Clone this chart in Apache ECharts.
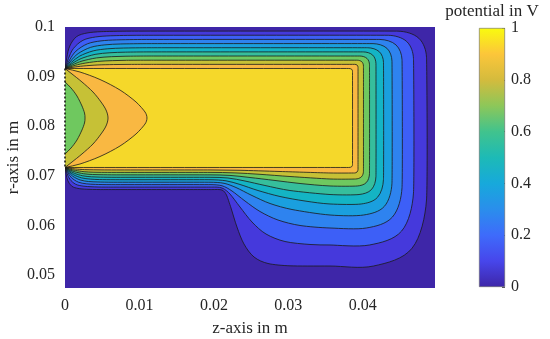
<!DOCTYPE html>
<html><head><meta charset="utf-8">
<script src="https://cdn.jsdelivr.net/npm/echarts@6/dist/echarts.min.js"></script>
<style>html,body{margin:0;padding:0;background:#fff}#c{width:550px;height:339px}</style>
</head><body><div id="c"></div>
<script>
// ---- axis ticks ----
const zTicks = [0, 0.01, 0.02, 0.03, 0.04];
const rTicks = [0.05, 0.06, 0.07, 0.08, 0.09, 0.1];
const cbTicks = [0, 0.2, 0.4, 0.6, 0.8, 1];
// ---- contour levels (V) ----
const levels = [0.1, 0.2, 0.3, 0.4, 0.5, 0.6, 0.7, 0.8, 0.9, 1.0];
// ---- band colours: [0,0.1) ... [0.9,1.0), >=1 ----
const bandColors = ['#3E26A8','#4539DC','#3D5FF7','#2E83EF','#1A9FDE','#14B4C4','#36BE9C','#6FC85F','#C6C136','#F9B842','#F5D82A'];
// ---- colour bar stops ----
const cbStops = ['#3E26A8','#4746EB','#3E6BFB','#2A8EEC','#17A9DB','#1DBAB6','#41C38D','#8DC759','#D4BB3D','#FCC63A','#F9FB0E'];

// ---- contour lines [z (m), r (m)] ----
const c01 = [[0,0.09164],[0.00025,0.09389],[0.00064,0.09615],[0.00154,0.09804],[0.00296,0.09879],[0.00486,0.09906],[0.00873,0.09916],[0.04474,0.09916],[0.04752,0.09774],[0.04856,0.0939],[0.04856,0.06514],[0.04662,0.05542],[0.04144,0.05183],[0.0356,0.05183],[0.03022,0.05187],[0.02727,0.05234],[0.02539,0.05365],[0.02404,0.05627],[0.0231,0.05969],[0.0223,0.06352],[0.02169,0.06614],[0.02109,0.06715],[0.01974,0.06724],[0.0047,0.06724],[0.00287,0.06731],[0.00175,0.06747],[0.00091,0.06792],[0.00038,0.06902],[0.00015,0.07035],[0,0.07169]];
const c02 = [[0,0.09164],[0.00046,0.09364],[0.00112,0.09565],[0.00241,0.09732],[0.00411,0.09799],[0.00615,0.09823],[0.01007,0.09833],[0.04343,0.09833],[0.0459,0.09707],[0.04681,0.09365],[0.04681,0.06653],[0.04522,0.05889],[0.04091,0.05607],[0.0356,0.05607],[0.03291,0.05617],[0.02955,0.05677],[0.027,0.05828],[0.02512,0.0607],[0.02351,0.06372],[0.02216,0.06634],[0.02109,0.06755],[0.01974,0.06774],[0.00537,0.06774],[0.00363,0.0678],[0.00243,0.06794],[0.00142,0.06832],[0.00066,0.06931],[0.00027,0.0705],[0,0.07169]];
const c03 = [[0,0.09164],[0.00063,0.09339],[0.00148,0.09515],[0.00301,0.09661],[0.00484,0.0972],[0.00693,0.0974],[0.01075,0.09749],[0.0423,0.09749],[0.04446,0.09639],[0.04527,0.0934],[0.04527,0.06765],[0.04398,0.0617],[0.04048,0.05949],[0.0356,0.05949],[0.03157,0.06],[0.02861,0.0611],[0.02619,0.06282],[0.02418,0.06493],[0.02243,0.06695],[0.02109,0.068],[0.01948,0.06823],[0.00604,0.06823],[0.0041,0.06828],[0.00286,0.0684],[0.00178,0.06874],[0.00088,0.06961],[0.00037,0.07066],[0,0.07169]];
const c04 = [[0,0.09164],[0.00076,0.09314],[0.00177,0.09465],[0.00345,0.0959],[0.00536,0.0964],[0.00748,0.09658],[0.01142,0.09665],[0.04138,0.09665],[0.04324,0.09571],[0.04392,0.09315],[0.04392,0.06852],[0.04289,0.06384],[0.04011,0.06211],[0.0356,0.06211],[0.03049,0.06322],[0.02754,0.06443],[0.02512,0.06604],[0.02297,0.06765],[0.02136,0.0685],[0.01948,0.06872],[0.00631,0.06872],[0.00442,0.06877],[0.00316,0.06886],[0.00204,0.06917],[0.00105,0.06991],[0.00045,0.0708],[0,0.07169]];
const c05 = [[0,0.09164],[0.00087,0.09289],[0.00199,0.09415],[0.00379,0.09519],[0.00575,0.09561],[0.00788,0.09576],[0.01142,0.09582],[0.04066,0.09582],[0.04221,0.09503],[0.04278,0.0929],[0.04278,0.06927],[0.04197,0.06566],[0.03979,0.06433],[0.0356,0.06433],[0.03224,0.06493],[0.02888,0.06584],[0.02592,0.06705],[0.02351,0.06826],[0.02163,0.069],[0.01948,0.06922],[0.00658,0.06922],[0.00466,0.06925],[0.00339,0.06935],[0.00224,0.06959],[0.00118,0.0702],[0.00051,0.07094],[0,0.07169]];
const c06 = [[0,0.09164],[0.00095,0.09264],[0.00217,0.09364],[0.00404,0.09448],[0.00603,0.09481],[0.00813,0.09493],[0.01142,0.09498],[0.04008,0.09498],[0.04132,0.09435],[0.04177,0.09264],[0.04177,0.06989],[0.04116,0.06723],[0.0395,0.06624],[0.0356,0.06624],[0.03022,0.06705],[0.02686,0.06806],[0.02418,0.06896],[0.02189,0.06957],[0.01948,0.06971],[0.00672,0.06971],[0.00477,0.06974],[0.00356,0.06981],[0.00239,0.07001],[0.00128,0.0705],[0.00056,0.0711],[0,0.07169]];
const c07 = [[0,0.09164],[0.00102,0.09239],[0.0023,0.09314],[0.00423,0.09377],[0.00625,0.09402],[0.00819,0.09411],[0.01142,0.09415],[0.03962,0.09415],[0.04056,0.09367],[0.0409,0.09239],[0.0409,0.07046],[0.04046,0.06863],[0.03926,0.06796],[0.0356,0.06796],[0.03157,0.06846],[0.02821,0.06907],[0.02485,0.06967],[0.02216,0.07009],[0.01948,0.0702],[0.00672,0.0702],[0.00484,0.07023],[0.00369,0.07027],[0.0025,0.07043],[0.00136,0.0708],[0.0006,0.07124],[0,0.07169]];
const c08 = [[0,0.09164],[0.00106,0.09214],[0.00239,0.09264],[0.00435,0.09306],[0.00639,0.09322],[0.00826,0.09329],[0.01142,0.09331],[0.03925,0.09331],[0.03987,0.09299],[0.04009,0.09214],[0.04009,0.07092],[0.03981,0.06979],[0.03903,0.06937],[0.0356,0.06937],[0.03022,0.06987],[0.02619,0.07031],[0.02283,0.0706],[0.01948,0.0707],[0.00672,0.0707],[0.0049,0.07071],[0.00377,0.07074],[0.00257,0.07084],[0.00141,0.0711],[0.00063,0.07138],[0,0.07169]];
const c09 = [[0,0.09164],[0.00109,0.09189],[0.00244,0.09214],[0.00443,0.09235],[0.0065,0.09243],[0.00833,0.09246],[0.01142,0.09247],[0.03893,0.09247],[0.03924,0.09232],[0.03936,0.09189],[0.03936,0.07132],[0.03923,0.07078],[0.03889,0.07058],[0.0356,0.07058],[0.02888,0.07088],[0.02351,0.07112],[0.01948,0.07119],[0.00672,0.07119],[0.00497,0.0712],[0.00384,0.07122],[0.00262,0.07126],[0.00144,0.07138],[0.00064,0.07154],[0,0.07169]];
const c10 = [[0,0.09164],[0.03815,0.09164],[0.03851,0.09148],[0.03862,0.09103],[0.03862,0.07229],[0.03851,0.07185],[0.03815,0.07169],[0,0.07169]];
// inner contours near z = 0
const inner08 = [[0,0.08892],[0.00081,0.08771],[0.00161,0.08609],[0.00228,0.08408],[0.00262,0.08267],[0.00269,0.08166],[0.00262,0.08065],[0.00228,0.07924],[0.00161,0.07723],[0.00081,0.07561],[0,0.07441]];
const inner09 = [[0,0.09164],[0.00094,0.09053],[0.00228,0.08892],[0.00376,0.0869],[0.00484,0.08489],[0.00551,0.08327],[0.00578,0.08166],[0.00551,0.08005],[0.00484,0.07844],[0.00376,0.07642],[0.00228,0.07441],[0.00094,0.07279],[0,0.07169]];
const inner10 = [[0,0.09164],[0.00201,0.09093],[0.0047,0.08942],[0.00739,0.0873],[0.00954,0.08489],[0.01075,0.08287],[0.01101,0.08166],[0.01075,0.08045],[0.00954,0.07844],[0.00739,0.07602],[0.0047,0.0739],[0.00201,0.07239],[0,0.07169]];
// boundary segment at z = 0
const axisSegment = [[0,0.09164],[0,0.07169]];

const outers = [c01,c02,c03,c04,c05,c06,c07,c08,c09,c10];
const innersByLevel = {7: inner08, 8: inner09, 9: inner10};
const strokeSets = [c01,c02,c03,c04,c05,c06,c07,c08,c09,c10,inner08,inner09,inner10];

function curvePath(P, move) {
  const n = P.length;
  const dist = (a,b)=>Math.hypot(b[0]-a[0], b[1]-a[1]);
  const tang = i => {
    const a = P[Math.max(i-1,0)], b = P[Math.min(i+1,n-1)];
    const l = dist(a,b) || 1;
    return [(b[0]-a[0])/l, (b[1]-a[1])/l];
  };
  const f = v => v.toFixed(2);
  let d = (move ? 'M' : 'L') + f(P[0][0]) + ' ' + f(P[0][1]);
  for (let i = 0; i < n-1; i++) {
    const a = P[i], b = P[i+1];
    const seg = dist(a,b);
    const prevSeg = i>0 ? dist(P[i-1],a) : seg;
    const nextSeg = i+2<n ? dist(b,P[i+2]) : seg;
    const h1 = Math.min(seg, prevSeg)/3, h2 = Math.min(seg, nextSeg)/3;
    const t1 = tang(i), t2 = tang(i+1);
    d += ' C' + f(a[0]+t1[0]*h1) + ' ' + f(a[1]+t1[1]*h1) + ' ' + f(b[0]-t2[0]*h2) + ' ' + f(b[1]-t2[1]*h2) + ' ' + f(b[0]) + ' ' + f(b[1]);
  }
  return d;
}
const toPx = (api, pts) => pts.map(p => api.coord(p));

const FONT = 'Liberation Serif';
const TXT = '#262626';
const chart = echarts.init(document.getElementById('c'), null, {renderer: 'canvas'});
chart.setOption({
  animation: false,
  grid: [
    {left: 65, right: 115, top: 27, bottom: 51, show: true, backgroundColor: bandColors[0], borderWidth: 0, containLabel: false, outerBoundsMode: 'none'},
    {left: 479, top: 28, width: 26, height: 259, show: false, containLabel: false, outerBoundsMode: 'none'}
  ],
  xAxis: [
    {type: 'value', gridIndex: 0, min: 0, max: 0.0497,
     axisLine: {show: false}, axisTick: {show: false}, splitLine: {show: false},
     axisLabel: {customValues: zTicks, fontFamily: FONT, fontSize: 16, color: TXT, margin: 10},
     name: 'z-axis in m', nameLocation: 'middle', nameGap: 32, nameMoveOverlap: false,
     nameTextStyle: {fontFamily: FONT, fontSize: 17, color: TXT}},
    {type: 'category', gridIndex: 1, data: [''], position: 'top',
     axisLine: {show: false}, axisTick: {show: false}, axisLabel: {show: false},
     name: 'potential in V', nameLocation: 'middle', nameGap: 8, nameMoveOverlap: false,
     nameTextStyle: {fontFamily: FONT, fontSize: 17, color: TXT}}
  ],
  yAxis: [
    {type: 'value', gridIndex: 0, min: 0.0474, max: 0.1,
     axisLine: {show: false}, axisTick: {show: false}, splitLine: {show: false},
     axisLabel: {customValues: rTicks, fontFamily: FONT, fontSize: 16, color: TXT, margin: 10, padding: [4, 0, 0, 0]},
     name: 'r-axis in m', nameLocation: 'middle', nameGap: 43, nameRotate: 90, nameMoveOverlap: false,
     nameTextStyle: {fontFamily: FONT, fontSize: 17, color: TXT}},
    {type: 'value', gridIndex: 1, min: 0, max: 1, interval: 0.2, position: 'right',
     axisLine: {show: false}, splitLine: {show: false},
     axisTick: {show: true, inside: true, length: 3, lineStyle: {color: '#333', width: 0.8}},
     axisLabel: {customValues: cbTicks, fontFamily: FONT, fontSize: 16, color: TXT, margin: 6, padding: [4, 0, 0, 0]}}
  ],
  series: [
    {type: 'custom', name: 'bands', xAxisIndex: 0, yAxisIndex: 0, clip: true, silent: true, z: 1,
     data: levels.map((l, i) => [i]),
     renderItem: (params, api) => {
       const i = api.value(0);
       let d = curvePath(toPx(api, outers[i]), true);
       const inner = innersByLevel[i];
       if (inner) d += ' ' + curvePath(toPx(api, inner.slice().reverse()), false);
       d += ' Z';
       return {type: 'path', shape: {pathData: d}, style: {fill: bandColors[i + 1], stroke: null}};
     }},
    {type: 'custom', name: 'contours', xAxisIndex: 0, yAxisIndex: 0, clip: true, silent: true, z: 3,
     data: strokeSets.map((s, i) => [i]),
     renderItem: (params, api) => {
       const i = api.value(0);
       const d = curvePath(toPx(api, strokeSets[i]), true);
       return {type: 'path', shape: {pathData: d}, style: {fill: null, stroke: '#1a1a1a', lineWidth: 0.8}};
     }},
    {type: 'line', name: 'boundary', xAxisIndex: 0, yAxisIndex: 0, data: axisSegment, symbol: 'none', z: 4,
     clip: false, silent: true, lineStyle: {color: '#1a1a1a', width: 1.6, type: [2, 2]}},
    {type: 'bar', name: 'colorbar', xAxisIndex: 1, yAxisIndex: 1, data: [1], barWidth: '100%', silent: true,
     itemStyle: {borderColor: '#666', borderWidth: 0.6,
       color: {type: 'linear', x: 0, y: 1, x2: 0, y2: 0,
               colorStops: cbStops.map((c, i) => ({offset: i / (cbStops.length - 1), color: c}))}}}
  ]
});
</script></body></html>
